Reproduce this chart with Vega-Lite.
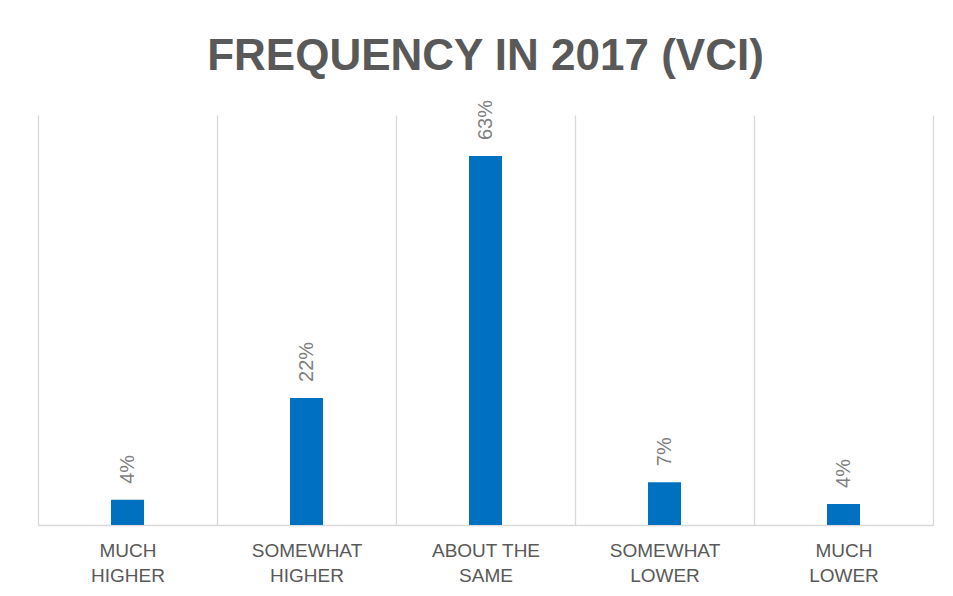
{
  "$schema": "https://vega.github.io/schema/vega-lite/v6.json",
  "width": 895,
  "height": 410,
  "autosize": {"type": "none"},
  "padding": {"left": 38, "top": 115, "right": 20, "bottom": 71},
  "background": "white",
  "config": {"view": {"stroke": null}, "font": "Liberation Sans"},
  "title": {
    "text": "FREQUENCY IN 2017 (VCI)",
    "font": "Liberation Sans",
    "fontSize": 44,
    "fontWeight": "bold",
    "color": "#595959",
    "anchor": "middle",
    "baseline": "alphabetic",
    "offset": 42,
    "dy": 56
  },
  "data": {
    "values": [
      {"category": "MUCH HIGHER", "value": 0.043},
      {"category": "SOMEWHAT HIGHER", "value": 0.217},
      {"category": "ABOUT THE SAME", "value": 0.63},
      {"category": "SOMEWHAT LOWER", "value": 0.073},
      {"category": "MUCH LOWER", "value": 0.036}
    ]
  },
  "encoding": {
    "x": {
      "field": "category",
      "type": "nominal",
      "sort": null,
      "scale": {"paddingInner": 0, "paddingOuter": 0},
      "axis": {
        "title": null,
        "labelAngle": 0,
        "labelFont": "Liberation Sans",
        "labelFontSize": 19,
        "labelColor": "#595959",
        "labelPadding": 16,
        "labelLineHeight": 25,
        "labelExpr": "datum.label == 'ABOUT THE SAME' ? ['ABOUT THE', 'SAME'] : split(datum.label, ' ')",
        "ticks": false,
        "tickBand": "extent",
        "grid": true,
        "gridColor": "#d9d9d9",
        "gridWidth": 1.3,
        "domainColor": "#d9d9d9",
        "domainWidth": 1.5
      }
    },
    "y": {
      "field": "value",
      "type": "quantitative",
      "scale": {"domain": [0, 0.7]},
      "axis": null
    }
  },
  "layer": [
    {"mark": {"type": "bar", "color": "#0070C0", "size": 33}},
    {
      "mark": {
        "type": "text",
        "angle": -90,
        "align": "left",
        "baseline": "middle",
        "dx": 16,
        "font": "Liberation Sans",
        "fontSize": 20,
        "color": "#7f7f7f"
      },
      "encoding": {"text": {"field": "value", "type": "quantitative", "format": ".0%"}}
    }
  ]
}
